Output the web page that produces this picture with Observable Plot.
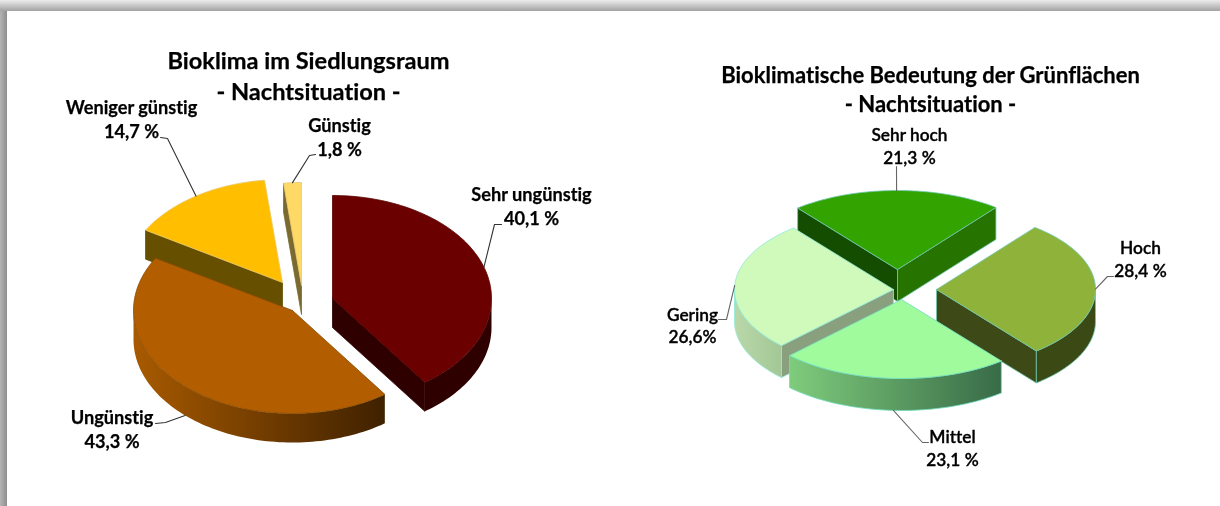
<!DOCTYPE html>
<html><head><meta charset="utf-8">
<style>
html,body{margin:0;padding:0;background:#fff;width:1220px;height:506px;overflow:hidden}
#chart{position:absolute;left:0;top:0}
#chart svg{filter:blur(.35px)}
#chart text{font-variant-ligatures:none;font-feature-settings:"liga" 0}
#top{position:absolute;left:0;top:0;width:1220px;height:11px;background:linear-gradient(#ececec,#a2a2a2)}
#left{position:absolute;left:0;top:0;width:7px;height:506px;background:linear-gradient(90deg,#b4b4b4,#8e8e8e)}
</style>
<script src="https://cdn.jsdelivr.net/npm/d3@7"></script>
<script src="https://cdn.jsdelivr.net/npm/@observablehq/plot@0.6"></script>
</head><body><div id="chart"></div><div id="left"></div><div id="top"></div>
<script>
// ---- data ----
const climateCategories = ["Sehr ungünstig", "Ungünstig", "Weniger günstig", "Günstig"];
const climateValues = [40.1, 43.3, 14.7, 1.8];
const climateLabels = ["40,1 %", "43,3 %", "14,7 %", "1,8 %"];
const greenCategories = ["Sehr hoch", "Hoch", "Mittel", "Gering"];
const greenValues = [21.3, 28.4, 23.1, 26.6];
const greenLabels = ["21,3 %", "28,4 %", "23,1 %", "26,6%"];

// ---- presentation (apex = exploded slice position on the page) ----
const W = 1220, H = 506, FONT = "Lato, Carlito, sans-serif";
const climateStyle = {
  key: "c", startAngle: 0, rx: 159, ry: 103, depth: 29,
  apex: [[332,298],[292,310],[282,282],[301,285]],
  top: ["#6b0000","#b25e00","#ffbf00","#ffd966"],
  edge: ["#5a0000","#8a4a00","#e8c870","#e8c870"],
  rimFrom: ["#2e0000","#a85a00","#665000","#7a6a30"],
  rimTo: ["#2e0000","#3f2100","#665000","#7a6a30"],
  faces: [[null,"#2e0000"],[null,null],["#665000",null],["#7a6a30",null]],
  order: [2,3,0,1],
  rimEdge: false,
  lineColor: "#333"
};
const greenStyle = {
  key: "g", startAngle: -38.9, rx: 159, ry: 79, depth: 32,
  apex: [[897,269],[936,289],[901,299],[893,289]],
  top: ["#33a300","#8fb33a","#a0fb9c","#d0f9bc"],
  edge: ["#6fc8b0","#6fc8b0","#6fdcc0","#8fe8d8"],
  rimFrom: ["#267300","#3b4a15","#7fcc7c","#bad8aa"],
  rimTo: ["#267300","#3b4a15","#386b47","#a3c795"],
  faces: [["#154d00","#267300"],[null,"#3d4a18"],[null,null],["#8a9f7d",null]],
  order: [0,3,1,2],
  rimEdge: true,
  lineColor: "#666"
};

const rad = d => d * Math.PI / 180;
const polys = [], gradients = [];
let pid = 0;
function addPoly(pts, fill, stroke) {
  const id = pid++;
  [...pts, pts[0]].forEach(p => polys.push({id, x: p[0], y: p[1], fill, stroke}));
}
function slices(values, st) {
  const total = d3.sum(values);
  let a = st.startAngle;
  return values.map((v, i) => {
    const a0 = a; a += v / total * 360;
    return {i, a0, a1: a, mid: (a0 + a) / 2, apex: st.apex[i]};
  });
}
function rimPoint(s, st, ang) {
  return [s.apex[0] + st.rx * Math.sin(rad(ang)), s.apex[1] - st.ry * Math.cos(rad(ang))];
}
function arc(s, st, a0, a1) {
  const n = Math.ceil(Math.abs(a1 - a0) / 1.5), pts = [];
  for (let j = 0; j <= n; j++) pts.push(rimPoint(s, st, a0 + (a1 - a0) * j / n));
  return pts;
}
function drawPie(values, st) {
  const ss = slices(values, st);
  for (const k of st.order) {
    const s = ss[k], d = st.depth;
    const down = p => [p[0], p[1] + d];
    const pStart = rimPoint(s, st, s.a0), pEnd = rimPoint(s, st, s.a1);
    const [f0, f1] = st.faces[k];
    if (f0) addPoly([s.apex, pStart, down(pStart), down(s.apex)], f0, st.rimEdge ? st.edge[k] : f0);
    if (f1) addPoly([s.apex, pEnd, down(pEnd), down(s.apex)], f1, st.rimEdge ? st.edge[k] : f1);
    // outer wall: only the part whose normal faces the viewer (90..270 deg)
    const r0 = Math.max(s.a0, 90), r1 = Math.min(s.a1, 270);
    if (r1 > r0) {
      const upper = arc(s, st, r0, r1);
      const xs = upper.map(p => p[0]);
      const gid = `rim-${st.key}${k}`;
      gradients.push({id: gid, x1: d3.min(xs), x2: d3.max(xs), from: st.rimFrom[k], to: st.rimTo[k]});
      addPoly([...upper, ...upper.map(down).reverse()], `url(#${gid})`, st.rimEdge ? st.edge[k] : "none");
    }
    addPoly([s.apex, ...arc(s, st, s.a0, s.a1)], st.top[k], st.edge[k]);
  }
  return ss;
}
const ssC = drawPie(climateValues, climateStyle);
const ssG = drawPie(greenValues, greenStyle);

// ---- leaders: label end, elbow, then the slice's rim at its mid angle ----
const leaders = [];
function leader(ss, st, idx, from, elbow, withDepth) {
  const p = rimPoint(ss[idx], st, ss[idx].mid);
  const end = [p[0], p[1] + (withDepth ? st.depth : 0)];
  [from, elbow, end].filter(Boolean).forEach(q => leaders.push({id: st.key + idx, x: q[0], y: q[1], c: st.lineColor}));
}
leader(ssC, climateStyle, 0, [501,224], [494,224]);
leader(ssC, climateStyle, 1, [155,423], [165,422], true);
leader(ssC, climateStyle, 2, [160,137], [167,138]);
leader(ssC, climateStyle, 3, [315,154], [309,155]);
leader(ssG, greenStyle, 0, [896,166], null);
leader(ssG, greenStyle, 1, [1113,276], [1107,276]);
leader(ssG, greenStyle, 2, [928,442], [922,442], true);
leader(ssG, greenStyle, 3, [718,319], [726,319]);

// ---- texts ----
const texts = [
  {t:"Bioklima im Siedlungsraum", x:308, y:61, s:23.6, w:700, b:.25},
  {t:"- Nachtsituation -", x:308, y:92, s:23.6, w:700, b:.25},
  {t:climateCategories[0], x:531, y:195, s:18.2, w:700, b:.25},
  {t:climateLabels[0], x:531, y:219, s:18.2, w:700, b:.25},
  {t:climateCategories[1], x:111.5, y:418, s:18.2, w:700, b:.25},
  {t:climateLabels[1], x:111.5, y:442, s:18.2, w:700, b:.25},
  {t:climateCategories[2], x:131, y:108, s:18.2, w:700, b:.25},
  {t:climateLabels[2], x:131, y:132, s:18.2, w:700, b:.25},
  {t:climateCategories[3], x:339, y:126, s:18.2, w:700, b:.25},
  {t:climateLabels[3], x:339, y:150, s:18.2, w:700, b:.25},
  {t:"Bioklimatische Bedeutung der Grünflächen", x:930, y:75, s:22, w:700, b:.25},
  {t:"- Nachtsituation -", x:930, y:104, s:22, w:700, b:.25},
  {t:greenCategories[0], x:909, y:135, s:17.3, w:600, b:.35},
  {t:greenLabels[0], x:909, y:158, s:17.3, w:600, b:.35},
  {t:greenCategories[1], x:1140, y:248, s:17.3, w:600, b:.35},
  {t:greenLabels[1], x:1140, y:271, s:17.3, w:600, b:.35},
  {t:greenCategories[2], x:952, y:437, s:17.3, w:600, b:.35},
  {t:greenLabels[2], x:952, y:460, s:17.3, w:600, b:.35},
  {t:greenCategories[3], x:692, y:315, s:17.3, w:600, b:.35},
  {t:greenLabels[3], x:692, y:337, s:17.3, w:600, b:.35}
];
const textMarks = d3.groups(texts, d => d.s + "|" + d.w).map(([k, rows]) =>
  Plot.text(rows, {x:"x", y:"y", text:"t", fontSize:rows[0].s, fontWeight:rows[0].w, fontFamily:FONT, fill:"#000", stroke:"#000", strokeWidth:rows[0].b, textAnchor:"middle", lineAnchor:"middle"}));

// gradient definitions for the shaded outer walls
function gradientDefs() {
  const defs = d3.create("svg:defs");
  for (const g of gradients) {
    const lg = defs.append("linearGradient").attr("id", g.id).attr("gradientUnits", "userSpaceOnUse")
      .attr("x1", g.x1).attr("x2", g.x2).attr("y1", 0).attr("y2", 0);
    lg.append("stop").attr("offset", 0).attr("stop-color", g.from);
    lg.append("stop").attr("offset", 1).attr("stop-color", g.to);
  }
  return defs.node();
}

const chart = Plot.plot({
  width: W, height: H,
  margin: 0,
  x: {domain:[0,W], range:[0,W], axis:null},
  y: {domain:[0,H], range:[0,H], axis:null},
  color: {type:"identity"},
  style: {background:"transparent"},
  marks: [
    gradientDefs,
    Plot.line(polys, {x:"x", y:"y", z:"id", fill:"fill", stroke:"stroke", strokeWidth:0.8, curve:"linear"}),
    Plot.line(leaders, {x:"x", y:"y", z:"id", stroke:"c", strokeWidth:1.1}),
    ...textMarks
  ]
});
document.getElementById("chart").append(chart);
</script></body></html>
